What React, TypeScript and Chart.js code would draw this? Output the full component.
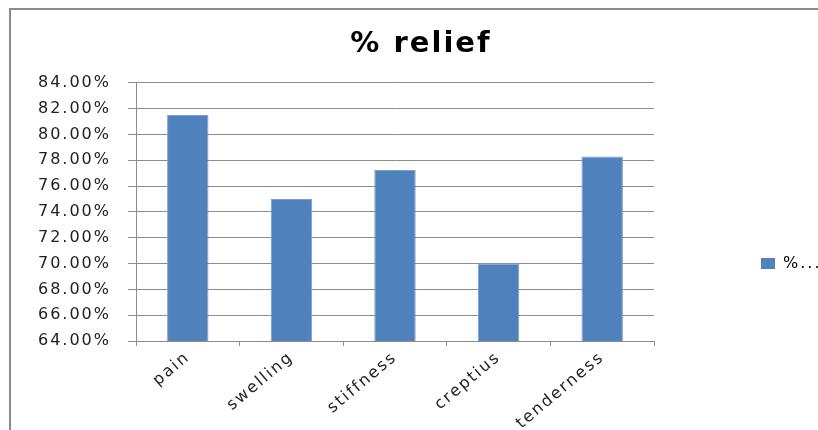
import React, { useEffect, useRef } from "react";
import { Chart, registerables } from "chart.js";

Chart.register(...registerables);

const categories = ["pain", "swelling", "stiffness", "creptius", "tenderness"];
const reliefValues = [81.5, 75.0, 77.25, 70.0, 78.3];
const seriesLabel = "% relief";
const legendText = "%...";
const yMin = 64;
const yMax = 84;
const yStep = 2;

const FONT = "'DejaVu Sans', Verdana, sans-serif";
const GRID = "#8c8c8c";

const setSpacing = (chart: any) => {
  const ctx = chart.ctx;
  if (ctx && "letterSpacing" in ctx) ctx.letterSpacing = "2px";
};

const placeBoxes = {
  id: "placeBoxes",
  beforeUpdate: setSpacing,
  beforeLayout: setSpacing,
  beforeDraw(chart: any) {
    setSpacing(chart);
    const ctx = chart.ctx;
    ctx.save();
    ctx.fillStyle = "#8c8c8c";
    ctx.fillRect(9, 8, chart.width + 10, 2);
    ctx.fillRect(9, 8, 2, chart.height - 8);
    ctx.restore();
  },
  afterLayout(chart: any) {
    const t = chart.titleBlock;
    if (t) {
      t.left = 0;
      t.right = 842;
      t.width = 842;
    }
    const lg = chart.legend;
    if (lg) {
      lg.left = 755;
      lg.right = 818;
      lg.width = 63;
      lg.top = 249.5;
      lg.bottom = 277;
      lg.height = 27.5;
    }
  },
};

export default function App() {
  const ref = useRef<HTMLCanvasElement | null>(null);

  useEffect(() => {
    document.body.style.margin = "0";
    const canvas = ref.current;
    if (!canvas) return;
    const chart = new Chart(canvas, {
      type: "bar",
      data: {
        labels: categories,
        datasets: [
          {
            label: seriesLabel,
            data: reliefValues,
            backgroundColor: "#4F81BD",
            borderColor: "#7AA0CF",
            borderWidth: 1,
            categoryPercentage: 1,
            barPercentage: 0.4,
          },
        ],
      },
      options: {
        responsive: false,
        animation: false,
        devicePixelRatio: 1,
        layout: { padding: { left: 0, right: 104, top: 0, bottom: 0 } },
        plugins: {
          title: {
            display: true,
            text: seriesLabel,
            color: "#000",
            font: { family: FONT, size: 29, weight: "bold", lineHeight: 1.2 },
            padding: { top: 27, bottom: 21 },
          },
          legend: {
            display: true,
            position: "right",
            align: "start",
            maxWidth: 60,
            labels: {
              boxWidth: 14,
              boxHeight: 11,
              padding: 6,
              color: "#222",
              font: { family: FONT, size: 16 },
              generateLabels: () => [
                {
                  text: legendText,
                  fillStyle: "#4F81BD",
                  strokeStyle: "#4F81BD",
                  lineWidth: 0,
                  hidden: false,
                  datasetIndex: 0,
                },
              ],
            },
          },
          tooltip: { enabled: false },
        },
        scales: {
          x: {
            grid: {
              display: true,
              drawOnChartArea: false,
              drawTicks: true,
              tickLength: 5,
              color: GRID,
              offset: true,
            },
            border: { display: true, color: GRID, width: 1 },
            ticks: {
              color: "#222",
              font: { family: FONT, size: 16 },
              minRotation: 40,
              maxRotation: 40,
              padding: 2,
              autoSkip: false,
            },
            afterFit: (scale: any) => {
              scale.height = 89;
            },
          },
          y: {
            min: yMin,
            max: yMax,
            grid: {
              color: GRID,
              drawTicks: true,
              tickLength: 8,
            },
            border: { display: true, color: GRID, width: 1 },
            ticks: {
              stepSize: yStep,
              color: "#222",
              font: { family: FONT, size: 16 },
              padding: 17,
              callback: (v: any) => Number(v).toFixed(2) + "%",
            },
            afterFit: (scale: any) => {
              scale.width = 136;
            },
          },
        },
      },
      plugins: [placeBoxes],
    });
    return () => chart.destroy();
  }, []);

  return (
    <div
      style={{
        position: "fixed",
        left: 0,
        top: 0,
        width: 818,
        height: 430,
        background: "#fff",
        overflow: "hidden",
      }}
    >
      <canvas ref={ref} width={818} height={430} style={{ position: "absolute", left: 0, top: 0 }} />
    </div>
  );
}
